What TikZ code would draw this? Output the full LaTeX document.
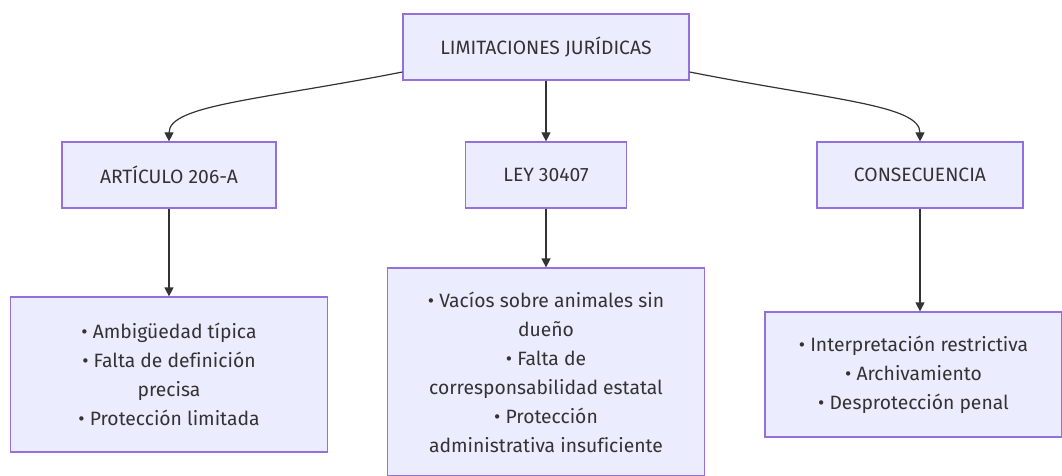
\documentclass[tikz,border=0pt]{standalone}
\usepackage{fontspec}
\setmainfont[Ligatures=NoCommon]{Fira Sans}
\usepackage{tikz}
\usetikzlibrary{arrows.meta}

\definecolor{boxfill}{HTML}{ECECFF}
\definecolor{boxline}{HTML}{9370DB}
\definecolor{ink}{HTML}{333333}

\begin{document}
\begin{tikzpicture}[
  x=1pt,y=-1pt,
  box/.style={rectangle,draw=boxline,fill=boxfill,line width=1.2pt,inner sep=0pt,
    align=center,text=ink,font=\fontsize{19.3}{29}\selectfont},
  link/.style={draw=ink,line width=1.2pt,-{Triangle[length=9pt,width=9pt]}}
]
\useasboundingbox (0,0) rectangle (1062,476);

\node[box,minimum width=286,minimum height=66] (lim) at (546,47) {LIMITACIONES JURÍDICAS};

\node[box,minimum width=214,minimum height=66] (art) at (169,175) {ARTÍCULO 206-A};
\node[box,minimum width=161,minimum height=66] (ley) at (546,175) {LEY 30407};
\node[box,minimum width=206,minimum height=66] (cons) at (920,175) {CONSECUENCIA};

\node[box,minimum width=317,minimum height=155] (artx) at (169,374.5)
  {• Ambigüedad típica\\ • Falta de definición\\ precisa\\ • Protección limitada};
\node[box,minimum width=317,minimum height=208] (leyx) at (546,372)
  {• Vacíos sobre animales sin\\ dueño\\ • Falta de\\ corresponsabilidad estatal\\ • Protección\\ administrativa insuficiente};
\node[box,minimum width=297,minimum height=125] (consx) at (913.5,374.5)
  {• Interpretación restrictiva\\ • Archivamiento\\ • Desprotección penal};

\draw[link] (lim.west |- 0,72) .. controls (260,100) and (169,105) .. (art.north);
\draw[link] (lim.south) -- (ley.north);
\draw[link] (lim.east |- 0,72) .. controls (832,100) and (920,105) .. (cons.north);

\draw[link] (art.south) -- (artx.north);
\draw[link] (ley.south) -- (leyx.north);
\draw[link] (cons.south) -- (cons |- consx.north);

\end{tikzpicture}
\end{document}
